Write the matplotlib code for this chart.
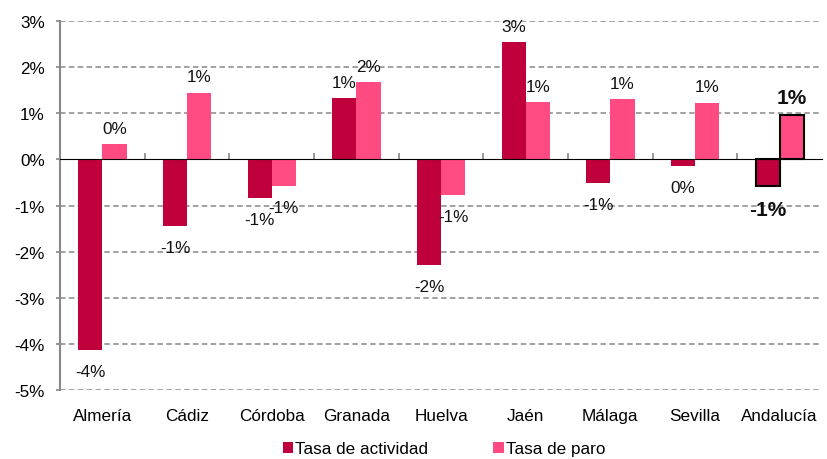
import matplotlib
matplotlib.use("Agg")
import matplotlib.pyplot as plt
import numpy as np

plt.rcParams['font.family'] = ['Liberation Sans', 'DejaVu Sans']

provincias = ["Almería", "Cádiz", "Córdoba", "Granada", "Huelva",
              "Jaén", "Málaga", "Sevilla", "Andalucía"]
tasa_actividad = [-4.13, -1.45, -0.83, 1.33, -2.30, 2.54, -0.52, -0.14, -0.57]
tasa_paro = [0.33, 1.45, -0.58, 1.67, -0.78, 1.24, 1.30, 1.23, 0.96]
yticks = list(range(-5, 4))

c_act = "#C0003C"
c_paro = "#FF4A82"
gris = "#888888"

fig = plt.figure(figsize=(8.27, 4.60), dpi=100)
ax = fig.add_axes([0.0726, 0.15, 0.9214, 0.802])

x = np.arange(len(provincias))
w = 0.285
n = len(provincias)
edge_act = ["none"] * (n - 1) + ["black"]
b1 = ax.bar(x - w / 2, tasa_actividad, w, color=c_act, edgecolor=edge_act,
            linewidth=1.5, label="Tasa de actividad", zorder=3)
b2 = ax.bar(x + w / 2, tasa_paro, w, color=c_paro, edgecolor=edge_act,
            linewidth=1.5, label="Tasa de paro", zorder=3)

def etiquetas(bars, vals):
    for i, (b, v) in enumerate(zip(bars, vals)):
        xc = b.get_x() + b.get_width() / 2
        bold = i == n - 1
        txt = "%d%%" % round(v)
        if v >= 0:
            off, va = 6, "bottom"
        else:
            off, va = -10, "top"
        ax.annotate(txt, (xc, v), xytext=(0, off), textcoords="offset points",
                    ha="center", va=va, fontsize=15 if bold else 12.3,
                    fontweight="bold" if bold else "normal", color="#111111")

etiquetas(b1, tasa_actividad)
etiquetas(b2, tasa_paro)

ax.set_xlim(-0.5, n - 0.5)
ax.set_ylim(-5, 3)
ax.set_yticks(yticks)
ax.set_yticklabels(["%d%%" % t for t in yticks])
ax.set_xticks(x)
ax.set_xticklabels(provincias)
ax.tick_params(axis="x", length=0, pad=13, labelsize=12.3)
ax.tick_params(axis="y", length=3, width=1.2, color=gris, pad=8, labelsize=12.3)

for t in yticks:
    if t != 0:
        ax.axhline(t, color=gris, lw=1.1, dashes=(3.6, 2.2), zorder=1)

for s in ["top", "right", "bottom"]:
    ax.spines[s].set_visible(False)
ax.spines["left"].set_color(gris)
ax.spines["left"].set_linewidth(1.5)

sec = ax.secondary_xaxis(5 / 8)
sec.set_xticks(np.arange(n - 1) + 0.5)
sec.set_xticklabels([])
sec.tick_params(length=4, width=1.2, color=gris, direction="out")
sec.spines["bottom"].set_color(gris)
sec.spines["bottom"].set_linewidth(1.5)
sec.set_zorder(4)

leg = fig.legend(handles=[b1, b2], loc="center", bbox_to_anchor=(0.537, 0.022),
                 ncol=2, frameon=False, fontsize=12.3, handlelength=0.6,
                 handleheight=0.6, handletextpad=0.15, columnspacing=3.8)
for h in leg.legend_handles:
    h.set_edgecolor("none")

fig.savefig("out.png", dpi=100)
